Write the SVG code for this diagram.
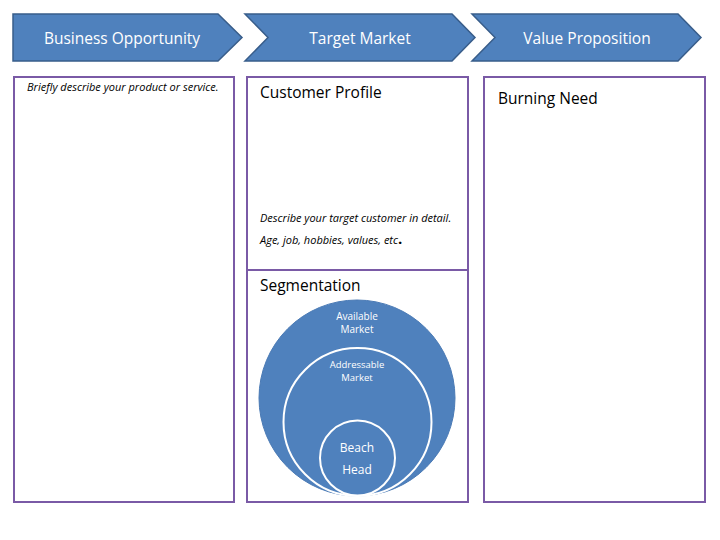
<svg xmlns="http://www.w3.org/2000/svg" width="720" height="540" viewBox="0 0 720 540">
<style>
.chev{fill:#4f81bd;stroke:#385d8a;stroke-width:1.5}
.chevt{font-family:"Open Sans","Liberation Sans",sans-serif;font-size:15.5px;fill:#fff;text-anchor:middle}
.box{fill:#fff;stroke:#7a5aa6;stroke-width:2}
.h{font-family:"Open Sans","Liberation Sans",sans-serif;font-size:15.5px;fill:#000}
.it{font-family:"Open Sans","Liberation Sans",sans-serif;font-size:11px;font-style:italic;fill:#000}
.ct{font-family:"Open Sans","Liberation Sans",sans-serif;fill:#fff;text-anchor:middle}
</style>
<rect width="720" height="540" fill="#fff"/>
<g id="business-opportunity">
<polygon class="chev" points="13,14 218,14 242,37.5 218,61 13,61"/>
<text class="chevt" x="122" y="44">Business Opportunity</text>
</g>
<g id="target-market">
<polygon class="chev" points="245,14 452,14 475,37.5 452,61 245,61 268,37.5"/>
<text class="chevt" x="360" y="44">Target Market</text>
</g>
<g id="value-proposition">
<polygon class="chev" points="472,14 678,14 701,37.5 678,61 472,61 495,37.5"/>
<text class="chevt" x="587" y="44">Value Proposition</text>
</g>
<g id="product-box">
<rect class="box" x="14" y="77" width="220" height="425"/>
<text class="it" x="27" y="91">Briefly describe your product or service.</text>
</g>
<g id="customer-profile">
<rect class="box" x="247" y="77" width="221" height="193"/>
<text class="h" x="260" y="98">Customer Profile</text>
<text class="it" x="260" y="222">Describe your target customer in detail.</text>
<text class="it" x="260" y="244">Age, job, hobbies, values, etc<tspan font-size="15px" font-style="normal" font-weight="bold">.</tspan></text>
</g>
<g id="segmentation">
<rect class="box" x="247" y="270" width="221" height="232"/>
<text class="h" x="260" y="291">Segmentation</text>
<circle cx="357" cy="398" r="98" fill="#4f81bd" stroke="#4a7ab5" stroke-width="1"/>
<circle cx="357.5" cy="422" r="74" fill="#4f81bd" stroke="#fff" stroke-width="2"/>
<circle cx="357.5" cy="458" r="37.5" fill="#4f81bd" stroke="#fff" stroke-width="2"/>
<text class="ct" x="357" y="320" font-size="10">Available</text>
<text class="ct" x="357" y="333" font-size="10">Market</text>
<text class="ct" x="357" y="368" font-size="9.5">Addressable</text>
<text class="ct" x="357" y="381" font-size="9.5">Market</text>
<text class="ct" x="357" y="452" font-size="12">Beach</text>
<text class="ct" x="357" y="474" font-size="12">Head</text>
</g>
<g id="burning-need">
<rect class="box" x="484" y="77" width="221" height="425"/>
<text class="h" x="498" y="104">Burning Need</text>
</g>
<g id="connectors"></g>
</svg>
